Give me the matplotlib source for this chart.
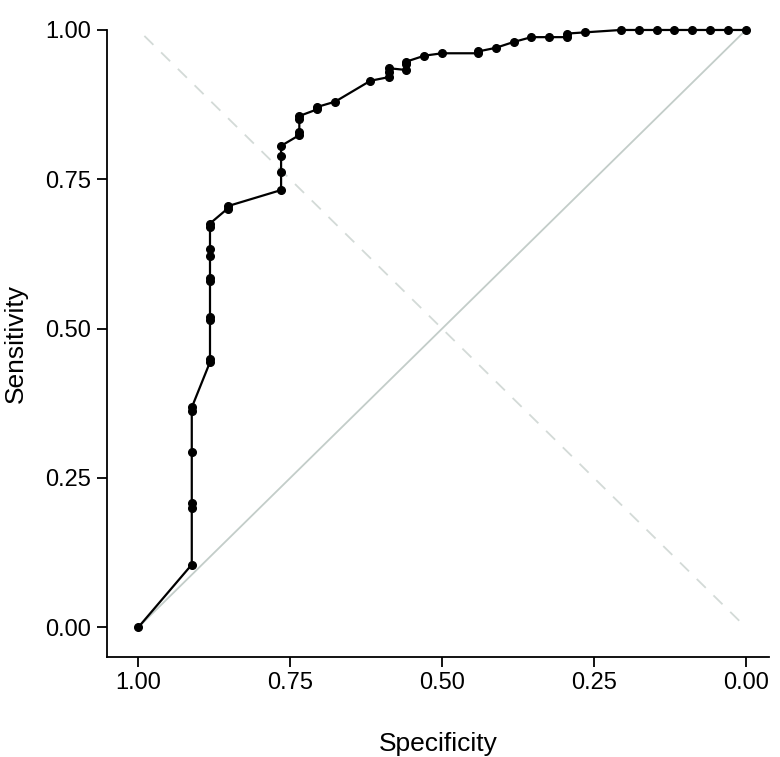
import matplotlib
matplotlib.use("Agg")
import matplotlib.pyplot as plt

# ROC points (specificity, sensitivity)
specificity = [
    1.000, 0.912, 0.912, 0.912, 0.912, 0.912, 0.912,
    0.882, 0.882, 0.882, 0.882, 0.882, 0.882, 0.882, 0.882, 0.882, 0.882,
    0.853, 0.853,
    0.765, 0.765, 0.765, 0.765,
    0.735, 0.735, 0.735, 0.735,
    0.706, 0.706, 0.676, 0.618,
    0.588, 0.588, 0.588,
    0.559, 0.559, 0.559,
    0.529, 0.500, 0.441, 0.441, 0.412, 0.382, 0.353, 0.324,
    0.294, 0.294, 0.265, 0.206, 0.176, 0.147, 0.118, 0.088, 0.059, 0.029, 0.000
]
sensitivity = [
    0.000, 0.105, 0.199, 0.208, 0.294, 0.362, 0.368,
    0.444, 0.449, 0.514, 0.519, 0.580, 0.585, 0.622, 0.633, 0.671, 0.676,
    0.701, 0.705,
    0.732, 0.762, 0.789, 0.806,
    0.824, 0.829, 0.851, 0.856,
    0.867, 0.871, 0.880, 0.915,
    0.921, 0.930, 0.936,
    0.933, 0.943, 0.947,
    0.957, 0.961, 0.961, 0.964, 0.970, 0.980, 0.988, 0.988,
    0.988, 0.994, 0.996, 1.000, 1.000, 1.000, 1.000, 1.000, 1.000, 1.000, 1.000
]

xticks = [1.00, 0.75, 0.50, 0.25, 0.00]
yticks = [0.00, 0.25, 0.50, 0.75, 1.00]

plt.rcParams["font.family"] = ["Liberation Sans", "DejaVu Sans"]

fig = plt.figure(figsize=(7.8, 7.57), dpi=100)
ax = fig.add_axes([0.1368, 0.1321, 0.8491, 0.8283])

# reference lines
ax.plot([1, 0], [0, 1], color="#c3cdc9", linewidth=1.3, zorder=1)
ax.plot([0.99, 0], [0.99, 0], color="#d3dad7", linewidth=1.3,
        linestyle=(0, (7, 6)), zorder=1)

ax.plot(specificity, sensitivity, color="black", linewidth=1.6,
        marker="o", markersize=5.5, clip_on=False, zorder=3)

ax.set_xlim(1.052, -0.038)
ax.set_ylim(-0.0497, 1.0)

ax.set_xticks(xticks)
ax.set_xticklabels([f"{t:.2f}" for t in xticks])
ax.set_yticks(yticks)
ax.set_yticklabels([f"{t:.2f}" for t in yticks])

for s in ["top", "right"]:
    ax.spines[s].set_visible(False)
for s in ["left", "bottom"]:
    ax.spines[s].set_linewidth(1.3)

ax.tick_params(axis="both", length=7, width=1.3, labelsize=17, pad=4)

ax.set_xlabel("Specificity", fontsize=19, labelpad=27)
ax.set_ylabel("Sensitivity", fontsize=19, labelpad=13)

fig.savefig("out.png", dpi=100)
